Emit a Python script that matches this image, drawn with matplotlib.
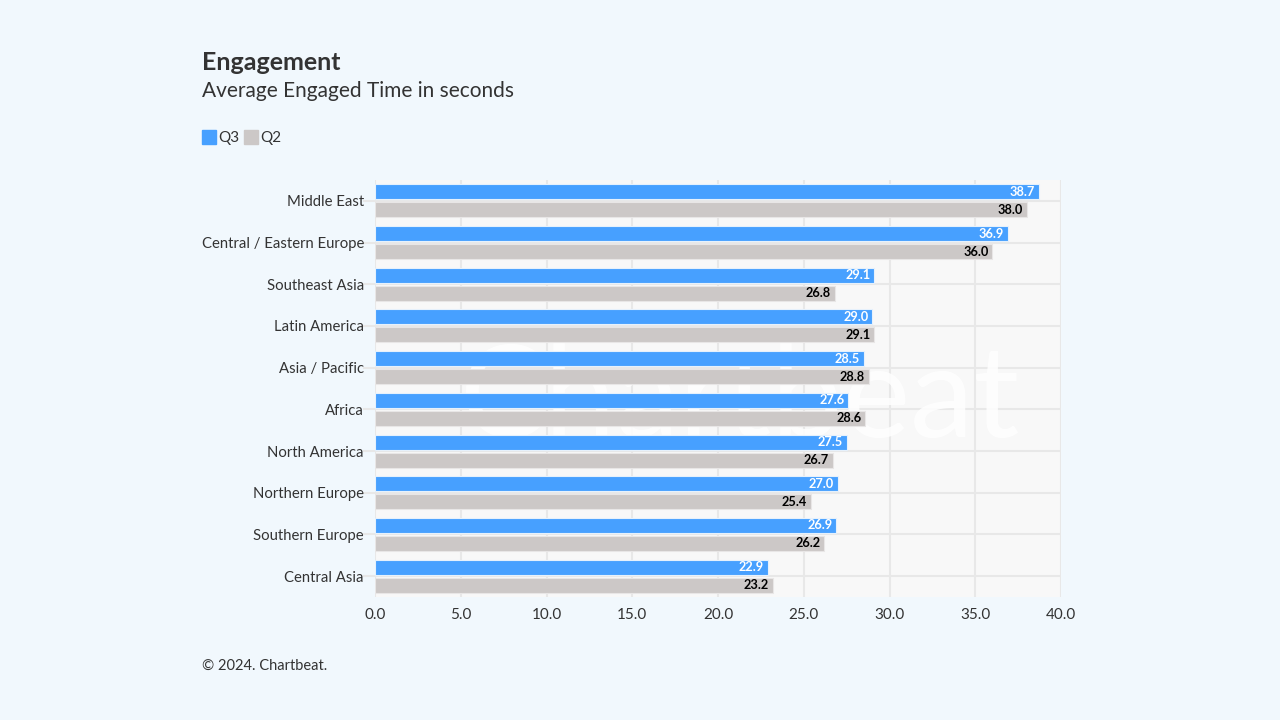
import matplotlib
matplotlib.use("Agg")
import numpy as np
import matplotlib.pyplot as plt
from matplotlib.lines import Line2D

regions = ["Middle East", "Central / Eastern Europe", "Southeast Asia", "Latin America",
           "Asia / Pacific", "Africa", "North America", "Northern Europe",
           "Southern Europe", "Central Asia"]
q3 = [38.7, 36.9, 29.1, 29.0, 28.5, 27.6, 27.5, 27.0, 26.9, 22.9]
q2 = [38.0, 36.0, 26.8, 29.1, 28.8, 28.6, 26.7, 25.4, 26.2, 23.2]
xticks = [0, 5, 10, 15, 20, 25, 30, 35, 40]

BG = '#F1F8FD'
PLOT_BG = '#F8F8F8'
BLUE = '#47A0FF'
GRAY = '#CCC8C7'
TXT = '#333333'

plt.rcParams['font.family'] = ['Lato', 'DejaVu Sans']

fig = plt.figure(figsize=(12.8, 7.2), dpi=100, facecolor=BG)
ax = fig.add_axes([375/1280, 1-597/720, (1061-375)/1280, (597-180)/720])
ax.set_facecolor(PLOT_BG)

y = np.arange(len(regions))
h = 0.36
off = 0.215
ax.barh(y - off, q3, height=h, color=BLUE, edgecolor='#E6F1FC', linewidth=0.8, zorder=3)
ax.barh(y + off, q2, height=h, color=GRAY, edgecolor='#E8E6E6', linewidth=0.8, zorder=3)

for yi, v in zip(y, q3):
    ax.text(v - 0.22, yi - off, f"{v:.1f}", ha='right', va='center', color='white',
            fontsize=9.2, fontweight='bold', zorder=4)
for yi, v in zip(y, q2):
    ax.text(v - 0.22, yi + off, f"{v:.1f}", ha='right', va='center', color='black',
            fontsize=9.2, fontweight='bold', zorder=4)

ax.set_xlim(0, 40)
ax.set_ylim(len(regions) - 0.5, -0.5)
ax.set_xticks(xticks)
ax.set_xticklabels([f"{t:.1f}" for t in xticks])
ax.set_yticks(y)
ax.set_yticklabels(regions)
ax.tick_params(axis='x', length=0, pad=8, labelsize=11, labelcolor=TXT)
ax.tick_params(axis='y', length=9, width=1.5, color='#E8E8E8', pad=-1, labelsize=10.7,
               labelcolor=TXT)
ax.grid(True, color='#E8E8E8', linewidth=1.5, zorder=0)
ax.set_axisbelow(True)
for s in ax.spines.values():
    s.set_visible(False)

# faint watermark
ax.text(0.532, 0.47, "Chartbeat", transform=ax.transAxes, ha='center', va='center',
        fontsize=92, color='white', alpha=0.85, zorder=1)

fig.text(202/1280, 1-70/720, "Engagement", fontsize=18, fontweight='bold', color=TXT,
         ha='left', va='baseline')
fig.text(202/1280, 1-97/720, "Average Engaged Time in seconds", fontsize=15, color=TXT,
         ha='left', va='baseline')

handles = [Line2D([], [], marker='s', linestyle='none', markersize=10, color=BLUE),
           Line2D([], [], marker='s', linestyle='none', markersize=10, color=GRAY)]
fig.legend(handles, ["Q3", "Q2"], loc='center left', bbox_to_anchor=(189/1280, 1-138/720),
           ncol=2, frameon=False, fontsize=11, handlelength=0.8, handletextpad=0.2,
           columnspacing=0.35, labelcolor=TXT)

fig.text(202/1280, 1-670/720, "\u00a9 2024. Chartbeat.", fontsize=10.5, color=TXT,
         ha='left', va='baseline')

fig.savefig("out.png", dpi=100, facecolor=BG)
